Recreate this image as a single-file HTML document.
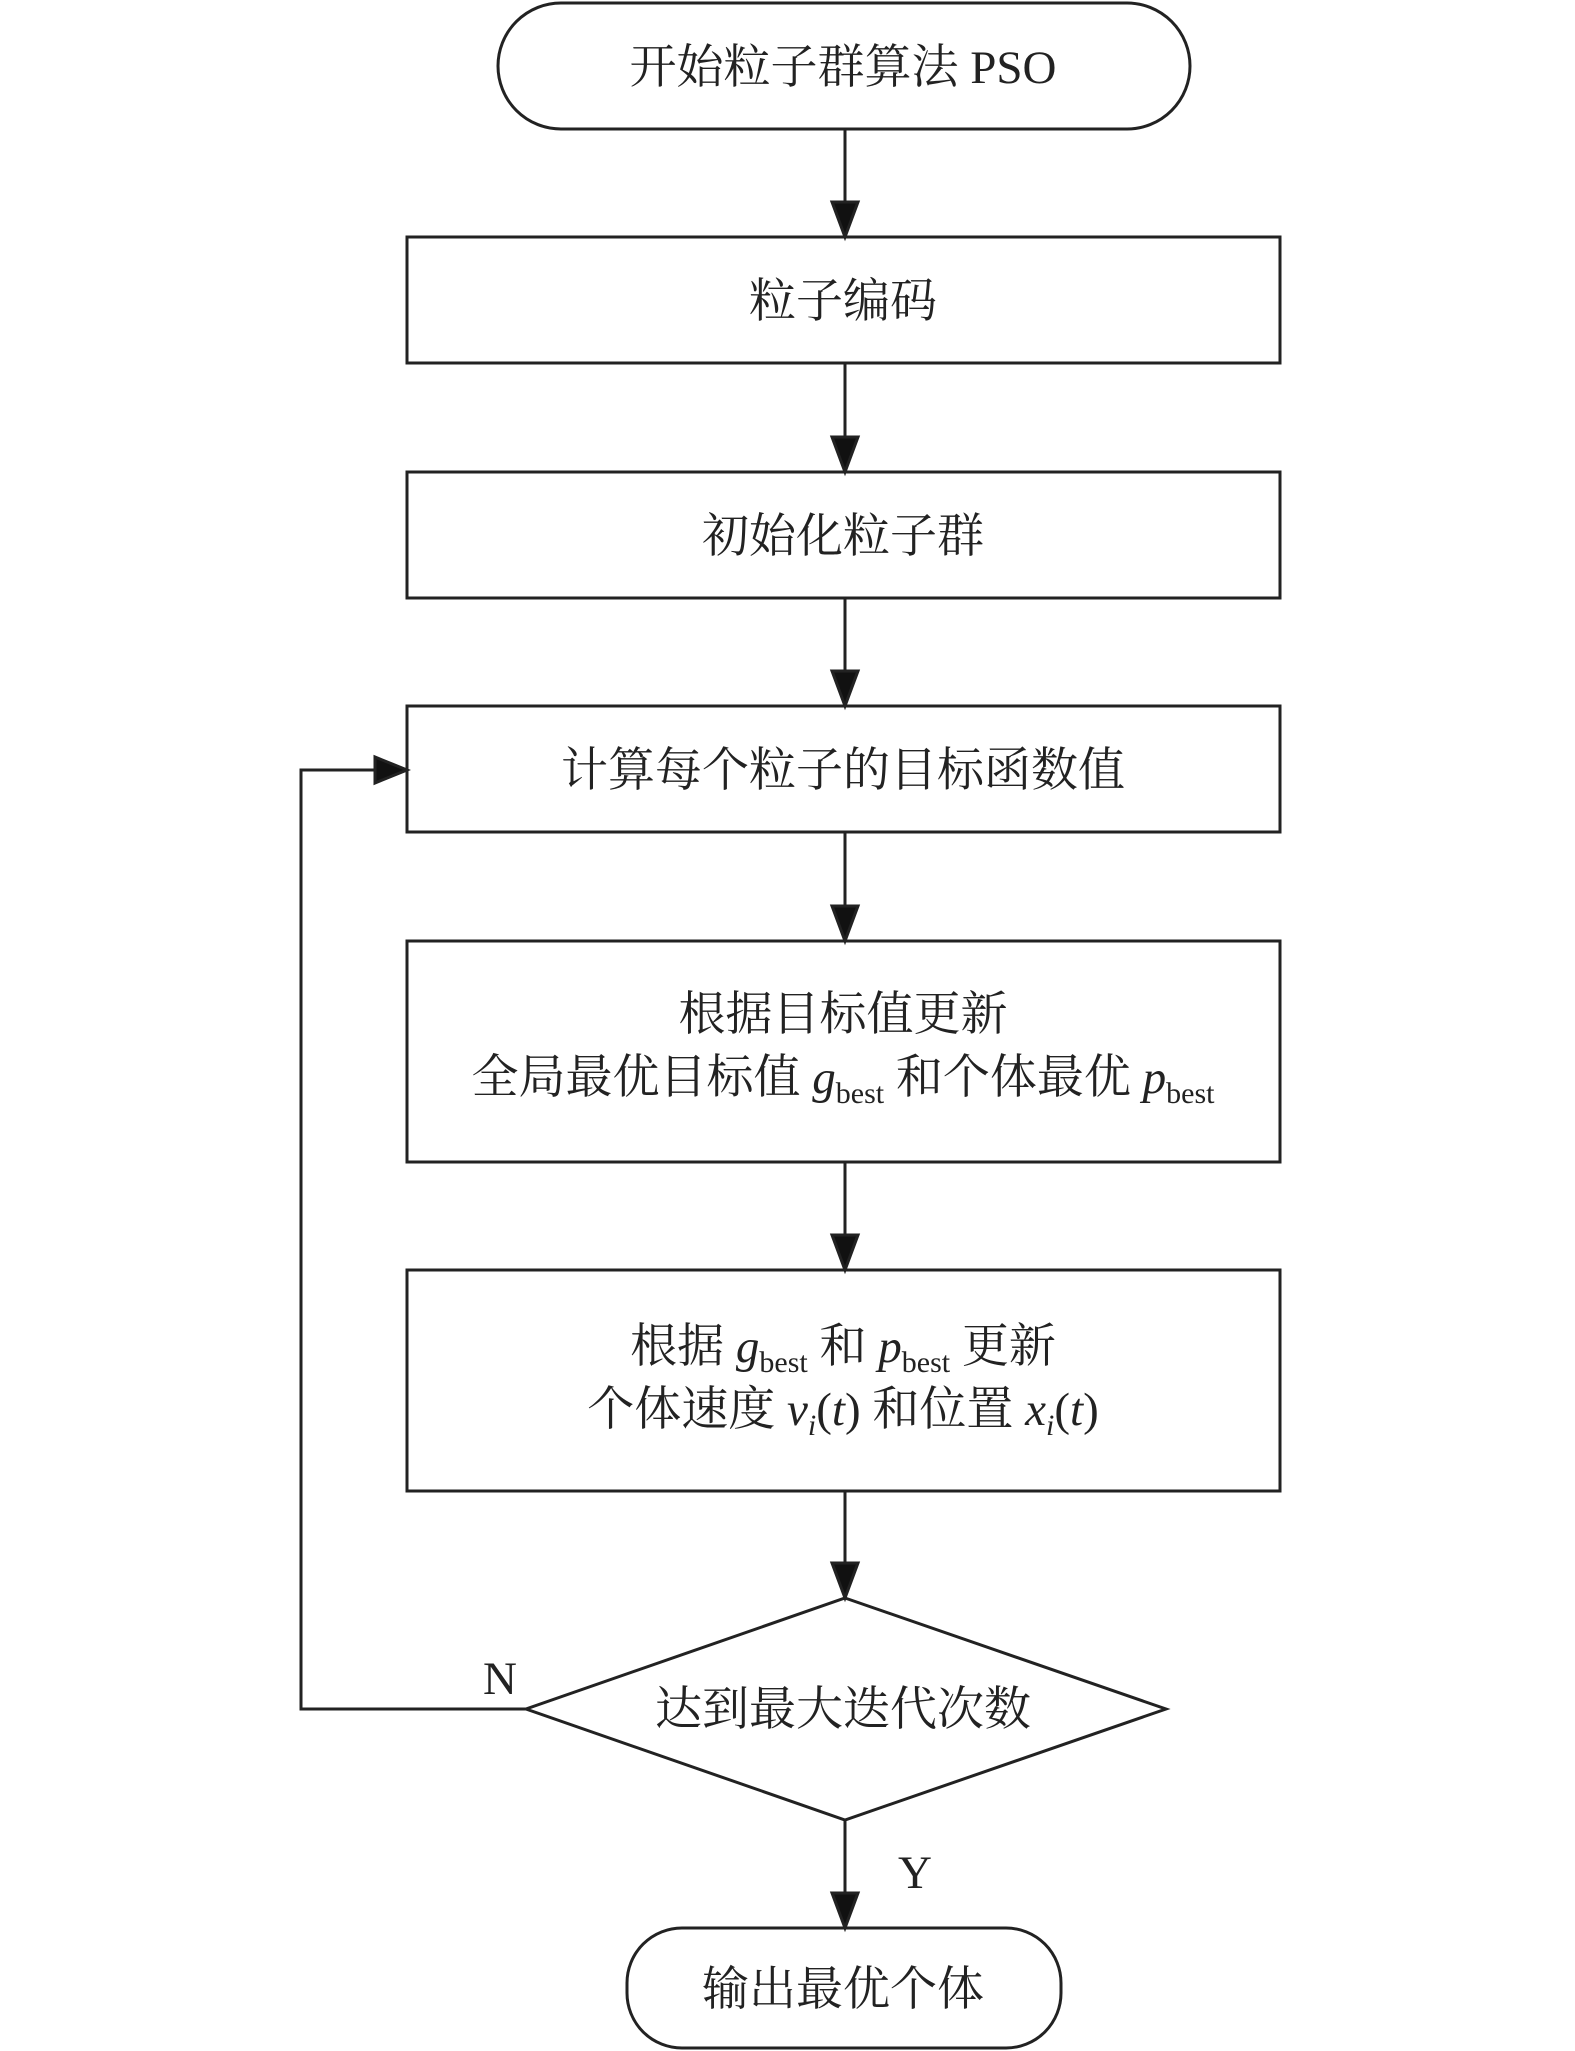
<!DOCTYPE html>
<html><head><meta charset="utf-8"><style>
html,body{margin:0;padding:0;background:#fff}
svg{display:block}
text{font-family:"Liberation Serif","Noto Serif CJK SC",serif;font-size:47px;fill:#222}
.s{font-size:30px}
</style></head><body>
<svg width="1575" height="2051" viewBox="0 0 1575 2051" xmlns="http://www.w3.org/2000/svg">
<defs><marker id="a" markerWidth="12" markerHeight="12" refX="10" refY="5" orient="auto" markerUnits="userSpaceOnUse" viewBox="0 0 10 10"><path d="M0,0 L10,5 L0,10 z" fill="#111"/></marker>
</defs>
<g fill="none" stroke="#222" stroke-width="3">
<rect x="498" y="3" width="692" height="126" rx="63"/>
<rect x="407" y="237" width="873" height="126"/>
<rect x="407" y="472" width="873" height="126"/>
<rect x="407" y="706" width="873" height="126"/>
<rect x="407" y="941" width="873" height="221"/>
<rect x="407" y="1270" width="873" height="221"/>
<polygon points="845,1598 1166,1709 845,1820 526,1709"/>
<rect x="627" y="1928" width="434" height="120" rx="55"/>
</g>
<g stroke="#222" stroke-width="3" fill="#111">
<line x1="845" y1="129" x2="845" y2="205"/><polygon points="832,202 858,202 845,237"/>
<line x1="845" y1="363" x2="845" y2="440"/><polygon points="832,437 858,437 845,472"/>
<line x1="845" y1="598" x2="845" y2="674"/><polygon points="832,671 858,671 845,706"/>
<line x1="845" y1="832" x2="845" y2="909"/><polygon points="832,906 858,906 845,941"/>
<line x1="845" y1="1162" x2="845" y2="1238"/><polygon points="832,1235 858,1235 845,1270"/>
<line x1="845" y1="1491" x2="845" y2="1566"/><polygon points="832,1563 858,1563 845,1598"/>
<line x1="845" y1="1820" x2="845" y2="1896"/><polygon points="832,1893 858,1893 845,1928"/>
<polyline fill="none" points="526,1709 301,1709 301,770 375,770"/><polygon points="375,757 375,783 407,770"/>
</g>
<g text-anchor="middle">
<text x="843" y="83">开始粒子群算法 PSO</text>
<text x="843" y="317">粒子编码</text>
<text x="843" y="552">初始化粒子群</text>
<text x="843" y="786">计算每个粒子的目标函数值</text>
<text x="843" y="1030">根据目标值更新</text>
<text x="843" y="1093">全局最优目标值 <tspan font-style="italic">g</tspan><tspan class="s" dy="10">best</tspan><tspan dy="-10"> 和个体最优 </tspan><tspan font-style="italic">p</tspan><tspan class="s" dy="10">best</tspan></text>
<text x="843" y="1362">根据 <tspan font-style="italic">g</tspan><tspan class="s" dy="10">best</tspan><tspan dy="-10"> 和 </tspan><tspan font-style="italic">p</tspan><tspan class="s" dy="10">best</tspan><tspan dy="-10"> 更新</tspan></text>
<text x="843" y="1425">个体速度 <tspan font-style="italic">v</tspan><tspan class="s" font-style="italic" dy="10">i</tspan><tspan dy="-10">(</tspan><tspan font-style="italic">t</tspan>) 和位置 <tspan font-style="italic">x</tspan><tspan class="s" font-style="italic" dy="10">i</tspan><tspan dy="-10">(</tspan><tspan font-style="italic">t</tspan>)</text>
<text x="843" y="1725">达到最大迭代次数</text>
<text x="843" y="2005">输出最优个体</text>
<text x="500" y="1694">N</text>
<text x="915" y="1888">Y</text>
</g>
</svg>
</body></html>
